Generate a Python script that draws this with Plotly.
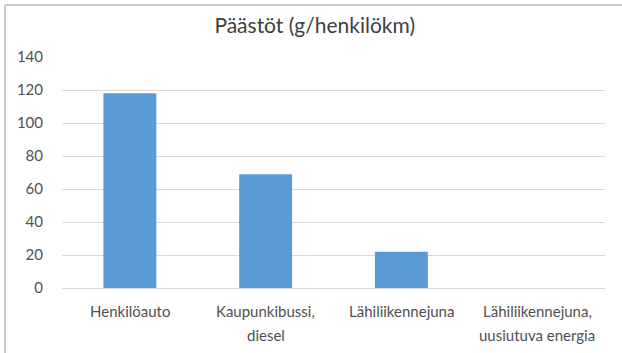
import plotly.graph_objects as go

# Emissions per passenger-kilometre by mode of transport
categories = [
    "Henkilöauto",
    "Kaupunkibussi, diesel",
    "Lähiliikennejuna",
    "Lähiliikennejuna, uusiutuva energia",
]
label_lines = [
    ["Henkilöauto"],
    ["Kaupunkibussi,", "diesel"],
    ["Lähiliikennejuna"],
    ["Lähiliikennejuna,", "uusiutuva energia"],
]
emissions = [118, 69, 22, 0]
y_ticks = [0, 20, 40, 60, 80, 100, 120, 140]

text_color = "#505050"
font_family = "Lato, 'Open Sans', sans-serif"

fig = go.Figure(
    go.Bar(
        x=categories,
        y=emissions,
        marker=dict(color="#5b9bd5", line=dict(width=0)),
        width=0.39,
    )
)

# Category labels, one annotation per line for wider line spacing
annotations = []
for cat, lines in zip(categories, label_lines):
    for i, line in enumerate(lines):
        annotations.append(dict(
            x=cat, xref="x", y=0, yref="paper",
            text=line, showarrow=False,
            xanchor="center", yanchor="middle",
            yshift=-23 - 24 * i,
            font=dict(family=font_family, size=15, color=text_color),
        ))

fig.update_layout(
    width=622,
    height=353,
    margin=dict(l=62, r=17, t=57, b=65),
    paper_bgcolor="white",
    plot_bgcolor="white",
    showlegend=False,
    font=dict(family=font_family, color=text_color, size=15),
    title=dict(
        text="Päästöt (g/henkilökm)",
        x=0.506,
        xanchor="center",
        y=0.928,
        yanchor="middle",
        font=dict(family=font_family, size=21, color="#404040"),
    ),
    xaxis=dict(
        showline=True,
        linecolor="#d9d9d9",
        linewidth=1,
        showticklabels=False,
        showgrid=False,
    ),
    yaxis=dict(
        range=[0, 140],
        tickvals=y_ticks,
        showgrid=True,
        gridcolor="#d9d9d9",
        gridwidth=1,
        zeroline=False,
        ticks="outside",
        ticklen=15,
        tickcolor="rgba(0,0,0,0)",
        tickfont=dict(size=15),
    ),
    annotations=annotations,
    shapes=[
        # outer chart frame (left and top edges)
        dict(type="line", xref="paper", yref="paper",
             x0=-57 / 543, x1=2, y0=(353 - 65 - 5) / 231, y1=(353 - 65 - 5) / 231,
             line=dict(color="#c8c8c8", width=2)),
        dict(type="line", xref="paper", yref="paper",
             x0=-57 / 543, x1=-57 / 543, y0=-2, y1=(353 - 65 - 5) / 231,
             line=dict(color="#c8c8c8", width=2)),
    ],
)

fig.write_html("out.html")
